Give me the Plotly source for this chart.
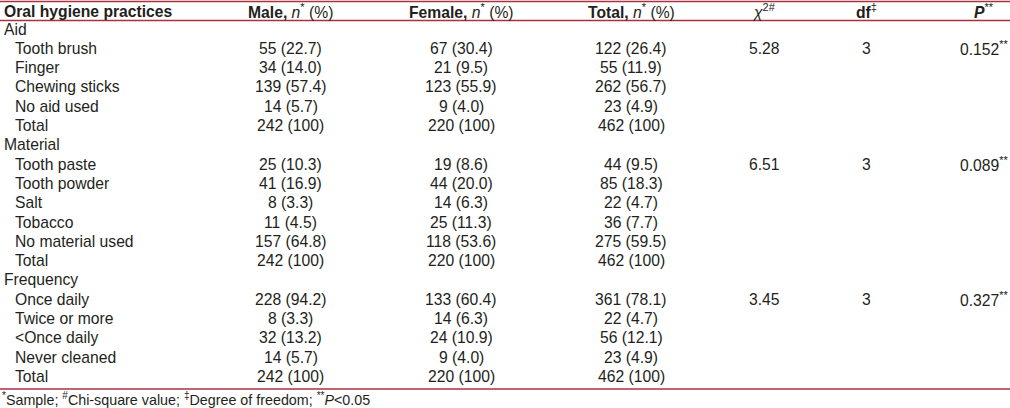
import plotly.graph_objects as go

# ---- data ----
row_labels = ["Aid", "Tooth brush", "Finger", "Chewing sticks", "No aid used", "Total",
              "Material", "Tooth paste", "Tooth powder", "Salt", "Tobacco", "No material used", "Total",
              "Frequency", "Once daily", "Twice or more", "<Once daily", "Never cleaned", "Total"]
is_group = [True, False, False, False, False, False,
            True, False, False, False, False, False, False,
            True, False, False, False, False, False]
male_n = [None, 55, 34, 139, 14, 242, None, 25, 41, 8, 11, 157, 242, None, 228, 8, 32, 14, 242]
male_pct = [None, 22.7, 14.0, 57.4, 5.7, 100, None, 10.3, 16.9, 3.3, 4.5, 64.8, 100, None, 94.2, 3.3, 13.2, 5.7, 100]
female_n = [None, 67, 21, 123, 9, 220, None, 19, 44, 14, 25, 118, 220, None, 133, 14, 24, 9, 220]
female_pct = [None, 30.4, 9.5, 55.9, 4.0, 100, None, 8.6, 20.0, 6.3, 11.3, 53.6, 100, None, 60.4, 6.3, 10.9, 4.0, 100]
total_n = [None, 122, 55, 262, 23, 462, None, 44, 85, 22, 36, 275, 462, None, 361, 22, 56, 23, 462]
total_pct = [None, 26.4, 11.9, 56.7, 4.9, 100, None, 9.5, 18.3, 4.7, 7.7, 59.5, 100, None, 78.1, 4.7, 12.1, 4.9, 100]
chi_sq = {1: "5.28", 7: "6.51", 14: "3.45"}
dof = {1: "3", 7: "3", 14: "3"}
p_val = {1: "0.152", 7: "0.089", 14: "0.327"}

headers = ["<b>Oral hygiene practices</b>",
           "<b>Male,</b> <i>n</i><sup>*</sup> (%)",
           "<b>Female,</b> <i>n</i><sup>*</sup> (%)",
           "<b>Total,</b> <i>n</i><sup>*</sup> (%)",
           "<i>χ</i><sup>2#</sup>",
           "<b>df</b><sup>‡</sup>",
           "<b><i>P</i></b><sup>**</sup>"]
footnote = ("<sup>*</sup>Sample; <sup>#</sup>Chi-square value; <sup>‡</sup>Degree of freedom; "
            "<sup>**</sup><i>P</i>&lt;0.05")

# ---- layout constants ----
W, H = 1010, 408
TXT = "#231f20"
RED = "#a8333f"
FONT = "Liberation Sans, Arial, sans-serif"
FS = 15.7
col_x = [2, 290.5, 461, 631, 764, 866, 984]
header_y = 11
row_y0 = 29
row_h = 19.3
rule_y = [1.5, 20.5, 389]
foot_y = 398.5


def fmt(n, p):
    if n is None:
        return None
    ps = "100" if p == 100 else f"{p:.1f}"
    return f"{n} ({ps})"


ann = []


def add(x, y, text, anchor="center", size=FS):
    ann.append(dict(x=x, y=y, xref="x", yref="y", text=text, showarrow=False,
                    xanchor=anchor, yanchor="middle", font=dict(family=FONT, size=size, color=TXT)))


for j, h in enumerate(headers):
    add(col_x[j], header_y, h, "left" if j == 0 else "center")

for i, lab in enumerate(row_labels):
    y = row_y0 + i * row_h
    add(col_x[0] + (0 if is_group[i] else 11), y, lab.replace("<", "&lt;"), "left")
    for j, (ns, ps) in enumerate([(male_n, male_pct), (female_n, female_pct), (total_n, total_pct)]):
        t = fmt(ns[i], ps[i])
        if t:
            add(col_x[j + 1], y, t)
    if i in chi_sq:
        add(col_x[4], y, chi_sq[i])
        add(col_x[5], y, dof[i])
        add(col_x[6], y, p_val[i] + "<sup>**</sup>")

add(0, foot_y, footnote, "left", size=14.3)

shapes = [dict(type="line", xref="paper", yref="paper", x0=0, x1=1, y0=1 - yy / H, y1=1 - yy / H,
               layer="above", line=dict(color=RED, width=1.5)) for yy in rule_y]

fig = go.Figure(go.Scatter(x=[0, W], y=[0, H], mode="markers", marker=dict(opacity=0),
                           hoverinfo="skip"))
fig.update_layout(
    width=W, height=H, margin=dict(l=0, r=0, t=0, b=0, pad=0),
    paper_bgcolor="white", plot_bgcolor="white",
    xaxis=dict(range=[0, W], showgrid=False, zeroline=False, showticklabels=False,
               showline=False, ticks="", fixedrange=True),
    yaxis=dict(range=[H, 0], showgrid=False, zeroline=False, showticklabels=False,
               showline=False, ticks="", fixedrange=True),
    annotations=ann, shapes=shapes, showlegend=False,
)
fig.write_html("out.html", config={"displayModeBar": False, "staticPlot": True},
               post_script="document.body.style.margin='0';document.body.style.overflow='hidden';")
